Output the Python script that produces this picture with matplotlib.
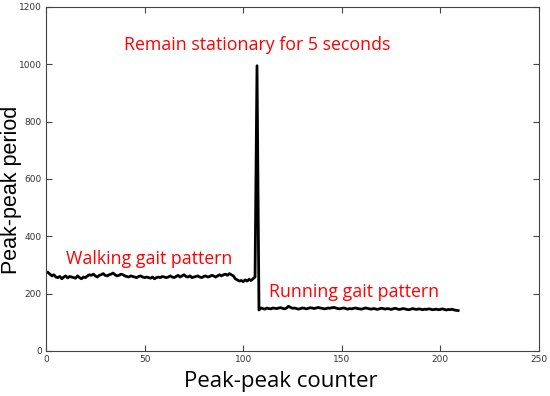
import matplotlib
matplotlib.use("Agg")
import matplotlib.pyplot as plt

# peak-peak period per peak counter
walking = [
    274, 268, 262, 266, 258, 256, 260, 252, 258, 262,
    255, 260, 258, 256, 254, 262, 256, 252, 258, 256,
    262, 266, 264, 268, 262, 258, 264, 266, 270, 264,
    262, 266, 268, 272, 266, 262, 264, 268, 266, 262,
    260, 258, 262, 260, 258, 256, 260, 262, 258, 256,
    258, 256, 254, 258, 252, 256, 258, 256, 260, 258,
    256, 258, 262, 258, 256, 260, 264, 258, 262, 266,
    260, 258, 262, 256, 258, 260, 262, 258, 256, 260,
    262, 258, 260, 264, 262, 258, 262, 266, 262, 266,
    268, 264, 270, 266, 262, 252, 248, 244, 246, 242,
    248, 244, 250, 246, 252,
]
spike = [258, 995]
running = [
    143, 150, 148, 146, 150, 148, 147, 150, 149, 148,
    150, 151, 149, 147, 150, 156, 152, 149, 150, 148,
    146, 148, 150, 149, 147, 149, 151, 150, 148, 150,
    152, 150, 149, 147, 148, 150, 149, 151, 152, 150,
    148, 147, 149, 150, 148, 146, 148, 147, 149, 150,
    148, 147, 146, 148, 150, 149, 147, 146, 148, 147,
    145, 147, 149, 148, 146, 148, 147, 145, 147, 149,
    147, 145, 146, 148, 147, 145, 144, 146, 148, 146,
    145, 147, 146, 144, 146, 145, 147, 146, 144, 145,
    146, 144, 145, 147, 145, 143, 145, 144, 146, 143,
    142, 141,
]
period = walking + spike + running
counter = list(range(1, len(period) + 1))

fig = plt.figure(figsize=(5.5, 3.96), dpi=100)
ax = fig.add_axes([46 / 550, 45 / 396, 493 / 550, 344 / 396])

ax.plot(counter, period, color="black", lw=2)

ax.set_xlim(0, 250)
ax.set_ylim(0, 1200)
ax.set_xticks([0, 50, 100, 150, 200, 250])
ax.set_yticks([0, 200, 400, 600, 800, 1000, 1200])
ax.tick_params(direction="in", top=True, right=True, length=4, width=0.8,
               labelsize=6.5, labelcolor="#333333", color="#444444", pad=3)
for sp in ax.spines.values():
    sp.set_color("#444444")
    sp.set_linewidth(0.8)

# axis titles placed by hand, as in the reference
fig.text(281 / 550, 1 - 381 / 396, "Peak-peak counter", fontsize=16,
         family="Open Sans", ha="center", va="center")
fig.text(12 / 550, 1 - 190 / 396, "Peak-peak period", fontsize=15.5,
         family="Liberation Sans", rotation=90, ha="center", va="center")

red = "#ff0000"
ax.text(107.3, 1068, "Remain stationary for 5 seconds", color=red,
        fontsize=12.8, family="Open Sans", ha="center", va="center")
ax.text(52.2, 321, "Walking gait pattern", color=red,
        fontsize=12.8, family="Open Sans", ha="center", va="center")
ax.text(156, 206, "Running gait pattern", color=red,
        fontsize=12.8, family="Open Sans", ha="center", va="center")

fig.savefig("out.png", dpi=100)
